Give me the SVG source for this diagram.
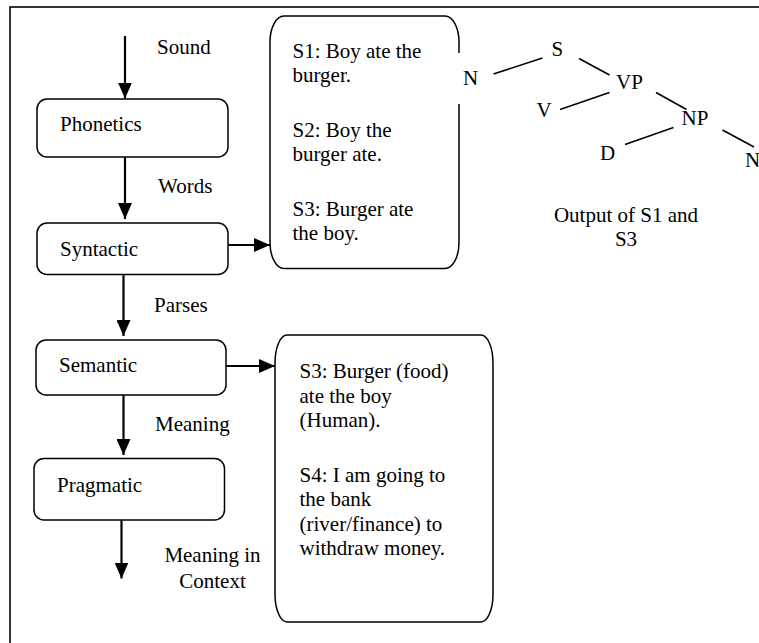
<svg xmlns="http://www.w3.org/2000/svg" width="759" height="643" viewBox="0 0 759 643">
<style>
text{font-family:"Liberation Serif","Times New Roman",serif;font-size:21px;fill:#000}
.box{fill:#fff;stroke:#000;stroke-width:1.5}
.conn{stroke:#000;stroke-width:2.2;fill:none}
.tree{stroke:#000;stroke-width:1.6;fill:none}
.mid{text-anchor:middle}
</style>
<defs>
<marker id="ah" viewBox="0 0 10 10" refX="10" refY="5" markerWidth="7" markerHeight="7" markerUnits="userSpaceOnUse" orient="auto">
<path d="M0,0 L10,5 L0,10 z" fill="#000"/>
</marker>
<marker id="ah2" viewBox="0 0 16 14" refX="16" refY="7" markerWidth="16" markerHeight="14" markerUnits="userSpaceOnUse" orient="auto">
<path d="M0,0 L16,7 L0,14 z" fill="#000"/>
</marker>
</defs>
<rect width="759" height="643" fill="#fff"/>
<rect id="frame" x="10" y="7" width="800" height="700" fill="none" stroke="#000" stroke-width="1.6"/>

<g id="connectors">
<line class="conn" x1="125" y1="36" x2="125" y2="98.5" marker-end="url(#ah2)"/>
<line class="conn" x1="125" y1="157" x2="125" y2="219" marker-end="url(#ah2)"/>
<line class="conn" x1="123.5" y1="274.5" x2="123.5" y2="336" marker-end="url(#ah2)"/>
<line class="conn" x1="123.5" y1="395" x2="123.5" y2="455" marker-end="url(#ah2)"/>
<line class="conn" x1="121.5" y1="516" x2="121.5" y2="578.5" marker-end="url(#ah2)"/>
<line class="conn" x1="228" y1="245" x2="270" y2="245" marker-end="url(#ah2)"/>
<line class="conn" x1="226" y1="366" x2="275" y2="366" marker-end="url(#ah2)"/>
</g>

<g id="labels">
<text x="157" y="54">Sound</text>
<text x="158" y="193">Words</text>
<text x="154" y="311.5">Parses</text>
<text x="155" y="431">Meaning</text>
<text class="mid" x="212.5" y="561.5">Meaning in</text>
<text class="mid" x="212.5" y="588">Context</text>
</g>

<g id="phonetics">
<rect class="box" x="37" y="99" width="191" height="58" rx="10"/>
<text x="60" y="131">Phonetics</text>
</g>
<g id="syntactic">
<rect class="box" x="37" y="223" width="191" height="51.5" rx="10"/>
<text x="60" y="255.5">Syntactic</text>
</g>
<g id="semantic">
<rect class="box" x="36" y="340" width="190" height="55" rx="10"/>
<text x="59" y="371.5">Semantic</text>
</g>
<g id="pragmatic">
<rect class="box" x="34" y="458.5" width="190.5" height="61.5" rx="10"/>
<text x="57" y="491.5">Pragmatic</text>
</g>

<g id="syntax-examples">
<rect class="box" x="270" y="16" width="189" height="252.5" rx="14" ry="26"/>
<text x="292.5" y="57.5">S1: Boy ate the</text>
<text x="292.5" y="81.5">burger.</text>
<text x="292.5" y="136.5">S2: Boy the</text>
<text x="292.5" y="160.5">burger ate.</text>
<text x="292.5" y="216">S3: Burger ate</text>
<text x="292.5" y="240">the boy.</text>
</g>

<g id="semantic-examples">
<rect class="box" x="275" y="335" width="218" height="287" rx="12" ry="28"/>
<text x="299.5" y="378">S3: Burger (food)</text>
<text x="299.5" y="402.5">ate the boy</text>
<text x="299.5" y="427">(Human).</text>
<text x="299.5" y="481.5">S4: I am going to</text>
<text x="299.5" y="506">the bank</text>
<text x="299.5" y="530.5">(river/finance) to</text>
<text x="299.5" y="555">withdraw money.</text>
</g>

<g id="parse-tree">
<rect x="457" y="53" width="24" height="51" fill="#fff"/>
<text x="463" y="84.5">N</text>
<text x="551.5" y="56">S</text>
<text x="616" y="88.5">VP</text>
<text x="536.5" y="117">V</text>
<text x="681.5" y="125">NP</text>
<text x="600" y="160">D</text>
<text x="745" y="167">N</text>
<line class="tree" x1="493.5" y1="74" x2="542.5" y2="58"/>
<line class="tree" x1="579" y1="58.5" x2="609.5" y2="75"/>
<line class="tree" x1="609.5" y1="92.5" x2="560" y2="109.5"/>
<line class="tree" x1="656" y1="92.5" x2="686.5" y2="109.5"/>
<line class="tree" x1="673.5" y1="127.5" x2="625" y2="144.5"/>
<line class="tree" x1="722.5" y1="130" x2="754" y2="147"/>
<text class="mid" x="626" y="221.5">Output of S1 and</text>
<text class="mid" x="626" y="245.5">S3</text>
</g>
</svg>
